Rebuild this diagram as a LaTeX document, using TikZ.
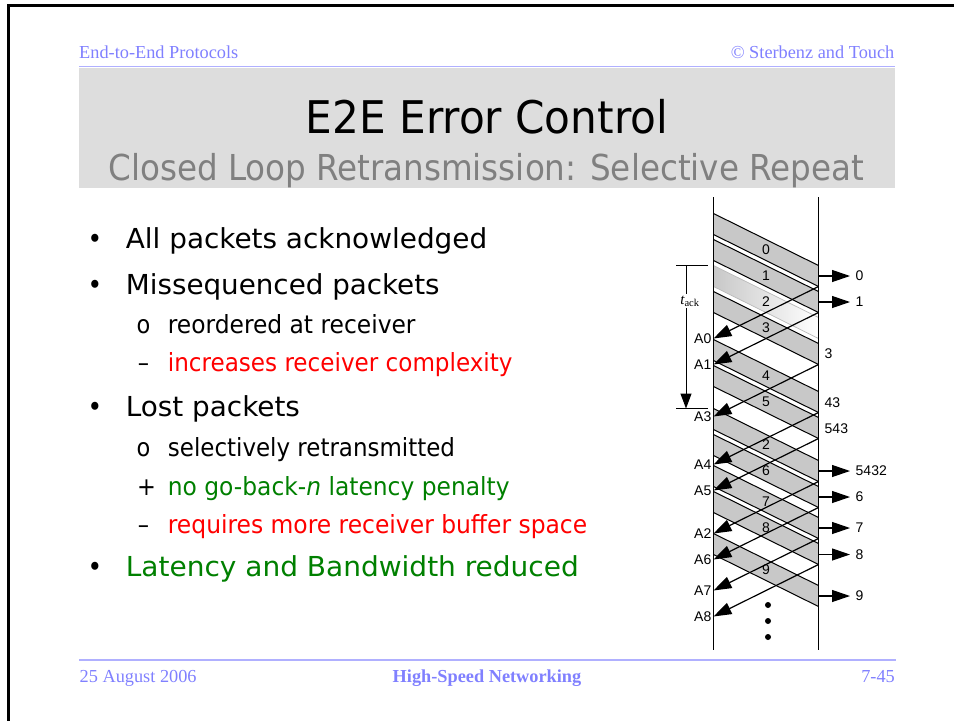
\documentclass[tikz,border=0pt]{standalone}
\usepackage{fontspec}
\usepackage{graphicx}
\usetikzlibrary{arrows.meta}
\setmainfont{Liberation Serif}
\newfontfamily\tahfont{DejaVu Sans Condensed}
\newfontfamily\arialfont{Liberation Sans}
\definecolor{hdr}{RGB}{128,128,255}
\definecolor{hdrline}{RGB}{176,176,255}
\definecolor{titlebg}{RGB}{221,221,221}
\definecolor{subgray}{RGB}{128,128,128}
\definecolor{pktgray}{RGB}{200,200,200}
\definecolor{myred}{RGB}{255,0,0}
\definecolor{mygreen}{RGB}{0,128,0}
\newcommand\fw[2]{\resizebox{#1pt}{\height}{#2}}
\tikzset{
  hdrtext/.style={font=\fontsize{18.3}{20}\selectfont, text=hdr, inner sep=0pt},
  bigbul/.style={font=\tahfont\fontsize{27.5}{30}\selectfont, inner sep=0pt, anchor=base west},
  subbul/.style={font=\tahfont\fontsize{25}{28}\selectfont, inner sep=0pt, anchor=base west},
  marker/.style={inner sep=0pt, anchor=base},
  plabel/.style={font=\arialfont\fontsize{14}{16}\selectfont, inner sep=0pt},
  pktedge/.style={line width=1pt},
  ackline/.style={line width=1.2pt, -{Triangle[length=18pt,width=12pt]}},
  delivline/.style={line width=1.2pt, -{Triangle[length=18pt,width=12pt]}},
  timeline/.style={line width=1.5pt},
}
% packet band: name, top-left y, label
\newcommand\pkt[3]{%
  \fill[pktgray] (713.5,#2) -- (818.5,#2+52) -- (818.5,#2+73) -- (713.5,#2+21) -- cycle;
  \draw[pktedge] (713.5,#2) -- (818.5,#2+52) (713.5,#2+21) -- (818.5,#2+73);
  \node[plabel] (#1) at (766,#2+36.5) {#3};
}
% ack: name, top-left y of acked packet, label
\newcommand\ackto[3]{%
  \coordinate (#1s) at (818.5,#2+73);
  \coordinate (#1e) at (713.5,#2+125);
  \draw[ackline] (#1s) -- (#1e);
  \node[plabel, anchor=east] (#1l) at (711.5,#2+125) {#3};
}
% delivery: name, y, label
\newcommand\deliver[3]{%
  \coordinate (#1s) at (818.5,#2);
  \coordinate (#1e) at (850,#2);
  \draw[delivline] (#1s) -- (#1e);
  \node[plabel, anchor=west] (#1l) at (855.5,#2) {#3};
}
\begin{document}
\begin{tikzpicture}[x=1pt,y=-1pt]
\useasboundingbox (0,0) rectangle (954,721);
\fill[white] (0,0) rectangle (954,721);
% frame
\draw[line width=2.5pt] (954,5.5) -- (8.7,5.5) -- (8.7,721);
% header
\node[hdrtext, anchor=base west] (hl) at (79,58.3) {End-to-End Protocols};
\node[hdrtext, anchor=base east] (hr) at (894.5,58.3) {© Sterbenz and Touch};
\fill[titlebg] (79,67.5) rectangle (895,187.7);
\draw[hdrline, line width=1.3pt] (79,66.8) -- (895,66.8);
\node[anchor=base, inner sep=0pt, font=\tahfont\fontsize{45}{50}\selectfont] (title) at (487,133.3) {\fw{362}{E2E Error Control}};
\node[anchor=base, inner sep=0pt, text=subgray, font=\tahfont\fontsize{35.7}{40}\selectfont] (subtitle) at (486.2,180) {\fw{755.7}{Closed Loop Retransmission: Selective Repeat}};
% bullets
\node[marker, font=\tahfont\fontsize{27.5}{30}\selectfont] (b1) at (94.8,248.3) {•};
\node[bigbul] (t1) at (125.7,248.3) {\fw{361.4}{All packets acknowledged}};
\node[marker, font=\tahfont\fontsize{27.5}{30}\selectfont] (b2) at (94.8,294.3) {•};
\node[bigbul] (t2) at (125.7,294.3) {\fw{313.7}{Missequenced packets}};
\node[marker, font=\tahfont\fontsize{25}{28}\selectfont] (b3) at (143.6,333.3) {o};
\node[subbul] (t3) at (167.7,333.3) {\fw{247.6}{reordered at receiver}};
\node[marker, font=\tahfont\fontsize{25}{28}\selectfont] (b4) at (143.6,371.7) {–};
\node[subbul, text=myred] (t4) at (167.7,371.7) {\fw{344.6}{increases receiver complexity}};
\node[marker, font=\tahfont\fontsize{27.5}{30}\selectfont] (b5) at (94.8,416.7) {•};
\node[bigbul] (t5) at (125.7,416.7) {\fw{174}{Lost packets}};
\node[marker, font=\tahfont\fontsize{25}{28}\selectfont] (b6) at (143.6,456.7) {o};
\node[subbul] (t6) at (167.7,456.7) {\fw{287}{selectively retransmitted}};
\node[marker, font=\tahfont\fontsize{25}{28}\selectfont] (b7) at (146.5,495) {+};
\node[subbul, text=mygreen] (t7) at (167.7,495) {\fw{341.7}{no go-back-\textit{n} latency penalty}};
\node[marker, font=\tahfont\fontsize{25}{28}\selectfont] (b8) at (143.6,533.3) {–};
\node[subbul, text=myred] (t8) at (167.7,533.3) {\fw{419.3}{requires more receiver buffer space}};
\node[marker, font=\tahfont\fontsize{27.5}{30}\selectfont] (b9) at (94.8,576.7) {•};
\node[bigbul, text=mygreen] (t9) at (125.7,576.7) {\fw{453}{Latency and Bandwidth reduced}};
% packets
\pkt{p0}{213.5}{0}
\pkt{p1}{239.5}{1}
\shade[left color=pktgray, right color=white] (713.5,265.5) -- (818.5,317.5) -- (818.5,338.5) -- (713.5,286.5) -- cycle;
\draw[gray!55, line width=0.7pt] (713.5,265.5) -- (818.5,317.5) (713.5,286.5) -- (818.5,338.5);
\node[plabel] (p2) at (766,302) {2};
\pkt{p3}{291.5}{3}
\pkt{p4}{339.5}{4}
\pkt{p5}{365.5}{5}
\pkt{p2r}{408.5}{2}
\pkt{p6}{434.5}{6}
\pkt{p7}{465.5}{7}
\pkt{p8}{491.5}{8}
\pkt{p9}{533.5}{9}
% acks
\ackto{a0}{213.5}{A0}
\ackto{a1}{239.5}{A1}
\ackto{a3}{291.5}{A3}
\ackto{a4}{339.5}{A4}
\ackto{a5}{365.5}{A5}
\ackto{a2}{408.5}{A2}
\ackto{a6}{434.5}{A6}
\ackto{a7}{465.5}{A7}
\ackto{a8}{491.5}{A8}
% deliveries
\deliver{d0}{276}{0}
\deliver{d1}{302}{1}
\deliver{d2}{471}{5432}
\deliver{d6}{497}{6}
\deliver{d7}{528}{7}
\deliver{d8}{554.5}{8}
\deliver{d9}{596}{9}
\node[plabel, anchor=west] (r3) at (824.5,354) {3};
\node[plabel, anchor=west] (r43) at (824.5,402.5) {43};
\node[plabel, anchor=west] (r543) at (824.5,428.5) {543};
% timelines
\coordinate (Lt) at (713.5,197);
\coordinate (Lb) at (713.5,650);
\coordinate (Rt) at (818.5,197);
\coordinate (Rb) at (818.5,650);
\draw[timeline] (Lt) -- (Lb);
\draw[timeline] (Rt) -- (Rb);
% dots
\fill (768,605) circle (3);
\fill (768,621) circle (3);
\fill (768,637) circle (3);
% t_ack
\coordinate (k1) at (686,265.5);
\coordinate (k2) at (686,408.5);
\draw[line width=1pt] (676,265.5) -- (708,265.5);
\draw[line width=1pt] (676,408.5) -- (708,408.5);
\draw[line width=1pt, -{Triangle[length=15pt,width=11pt]}] (k1) -- (k2);
\node[fill=white, inner sep=1.5pt, font=\fontsize{15}{17}\selectfont] (tack) at (690,301) {\itshape t\textsubscript{\upshape ack}};
% footer
\draw[hdrline, line width=1.3pt] (79,660) -- (896,660);
\node[hdrtext, anchor=base west] (f1) at (79.5,682.7) {25 August 2006};
\node[hdrtext, anchor=base, font=\fontsize{18.3}{20}\selectfont\bfseries] (f2) at (487,682.7) {High-Speed Networking};
\node[hdrtext, anchor=base east] (f3) at (895,682.7) {7-45};
\end{tikzpicture}
\end{document}
